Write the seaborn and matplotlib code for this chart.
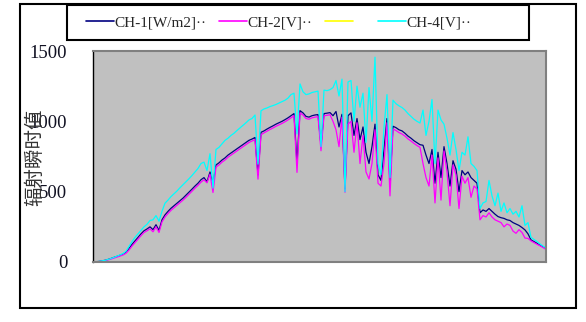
import matplotlib
matplotlib.use("Agg")
import matplotlib.pyplot as plt
from matplotlib.lines import Line2D
from matplotlib.patches import Rectangle
import seaborn as sns
import pandas as pd

# ---------------- data ----------------
series_names = ["CH-1[W/m2]··", "CH-2[V]··", "CH-3", "CH-4[V]··"]
legend_labels = ["CH-1[W/m2]··", "CH-2[V]··", "   ", "CH-4[V]··"]
y_ticks = [0, 500, 1000, 1500]
y_label = "辐射瞬时值"

ch1 = [0, 2, 4, 8, 12, 18, 25, 33, 40, 48,
       56, 70, 95, 125, 150, 175, 200, 222, 235, 250,
       230, 265, 225, 300, 335, 360, 382, 400, 418, 437,
       454, 475, 497, 518, 540, 560, 585, 600, 570, 640,
       560, 690, 705, 725, 740, 760, 775, 790, 805, 820,
       835, 850, 865, 874, 885, 620, 922, 932, 945, 957,
       968, 980, 990, 1000, 1012, 1025, 1040, 1055, 700, 1076,
       1060, 1035, 1030, 1040, 1045, 1048, 830, 1055, 1058, 1062,
       1040, 1070, 960, 1050, 520, 1040, 1060, 900, 1020, 870,
       960, 780, 700, 820, 980, 620, 580, 800, 1020, 560,
       965, 955, 940, 932, 915, 895, 880, 862, 848, 834,
       830, 760, 700, 800, 560, 780, 600, 820, 700, 540,
       720, 660, 500, 650, 620, 640, 600, 580, 560, 350,
       370, 360, 380, 360, 340, 323, 315, 310, 300, 295,
       280, 270, 260, 245, 228, 200, 157, 145, 133, 120,
       108, 96]

ch2 = [0, 1, 3, 6, 10, 15, 21, 28, 35, 42,
       50, 62, 85, 113, 138, 162, 187, 210, 222, 236,
       215, 250, 210, 285, 320, 345, 367, 386, 404, 422,
       440, 460, 482, 503, 525, 545, 568, 584, 563, 625,
       494, 675, 690, 710, 725, 745, 760, 775, 790, 805,
       820, 835, 850, 860, 870, 589, 905, 918, 930, 942,
       953, 965, 975, 985, 997, 1010, 1025, 1040, 637, 1060,
       1045, 1020, 1015, 1025, 1030, 1033, 791, 1040, 1043, 1047,
       1000, 940, 820, 1030, 496, 980, 1000, 780, 990, 700,
       900, 640, 590, 700, 940, 560, 540, 700, 990, 470,
       945, 935, 920, 910, 895, 875, 860, 843, 828, 815,
       700, 600, 540, 760, 420, 740, 440, 790, 640, 400,
       690, 620, 380, 610, 560, 600, 460, 540, 520, 300,
       330, 320, 350, 320, 300, 290, 280, 250, 270, 260,
       220, 204, 230, 210, 170, 168, 150, 138, 126, 115,
       103, 90]

ch4 = [0, 2, 4, 8, 12, 18, 25, 33, 42, 50,
       60, 76, 110, 145, 175, 200, 225, 250, 268, 295,
       300, 330, 290, 360, 418, 440, 465, 485, 505, 528,
       549, 570, 592, 615, 640, 665, 700, 710, 650, 770,
       525, 800, 815, 840, 865, 880, 900, 915, 935, 953,
       970, 990, 1010, 1020, 1045, 696, 1075, 1088, 1095, 1105,
       1112, 1120, 1130, 1140, 1150, 1165, 1190, 1200, 910, 1266,
       1210, 1190, 1195, 1205, 1210, 1215, 820, 1222, 1218, 1225,
       1240, 1290, 1180, 1300, 500, 1280, 1290, 1000, 1250, 1100,
       1200, 850, 1240, 1000, 1456, 700, 620, 960, 1190, 600,
       1150, 1125, 1110, 1098, 1080, 1055, 1035, 1015, 1000, 988,
       1080, 900, 1000, 1155, 700, 1080, 1010, 980, 880, 760,
       920, 800, 650, 780, 760, 890, 700, 680, 650, 380,
       420, 430, 580, 470, 400, 490, 360, 420, 350, 380,
       340, 360, 320, 400, 260, 280, 175, 160, 145, 128,
       113, 100]

sample_index = list(range(len(ch1)))

colors = {"CH-1[W/m2]··": "#000080", "CH-2[V]··": "#FF00FF",
          "CH-3": "#FFFF00", "CH-4[V]··": "#00FFFF"}

# ---------------- figure ----------------
sns.set_style("white")
plt.rcParams["font.family"] = ["Liberation Serif", "DejaVu Serif"]

W, H = 586, 322
fig = plt.figure(figsize=(W / 100, H / 100), dpi=100)
fig.patch.set_facecolor("white")

# outer chart-area frame
fig.add_artist(Rectangle((20 / W, 1 - 308 / H), (576 - 20) / W, (308 - 4) / H,
                         transform=fig.transFigure, fill=False,
                         edgecolor="black", linewidth=1.5))

ax = fig.add_axes([93 / W, 1 - 262 / H, 453 / W, 211 / H])
ax.set_facecolor("#C0C0C0")

df = pd.DataFrame({"idx": sample_index,
                   "CH-1[W/m2]··": ch1,
                   "CH-2[V]··": ch2,
                   "CH-4[V]··": ch4})

for name in ["CH-1[W/m2]··", "CH-2[V]··", "CH-4[V]··"]:
    sns.lineplot(data=df, x="idx", y=name, color=colors[name],
                 linewidth=0.9, ax=ax, legend=False)

ax.set_xlim(0, len(ch1) - 1)
ax.set_ylim(0, 1500)
ax.set_xticks([])
ax.set_yticks(y_ticks)
ax.set_yticklabels([str(t) for t in y_ticks], fontsize=13.5,
                   family=["Liberation Serif"])
ax.tick_params(axis="y", direction="in", length=3.6, width=1,
               color="black", pad=18.5, labelcolor="#111122")
ax.set_xlabel("")
ax.set_ylabel("")

for side in ["top", "right", "bottom"]:
    ax.spines[side].set_color("#808080")
    ax.spines[side].set_linewidth(1.5)
ax.spines["left"].set_color("black")
ax.spines["left"].set_linewidth(1.0)

# y-axis title (overlaps the tick labels, as in the reference)
fig.text(35 / W, 1 - 157 / H, y_label, rotation=90, ha="center", va="center",
         fontsize=14, color="#333333",
         family=["Noto Sans CJK SC", "DejaVu Sans"])

# legend frame
fig.add_artist(Rectangle((67 / W, 1 - 40 / H), (529 - 67) / W, (40 - 5) / H,
                         transform=fig.transFigure, fill=False,
                         edgecolor="black", linewidth=1.5))

handles = [Line2D([], [], color=colors[n], linewidth=1.2) for n in series_names]
fig.legend(handles, legend_labels, loc="center left",
           bbox_to_anchor=(86 / W, 1 - 22.5 / H), ncol=4, frameon=False,
           handlelength=1.8, handletextpad=0.05,
           columnspacing=0.85, borderpad=0, borderaxespad=0,
           prop={"family": "Liberation Serif", "size": 11})

fig.savefig("out.png", dpi=100)
